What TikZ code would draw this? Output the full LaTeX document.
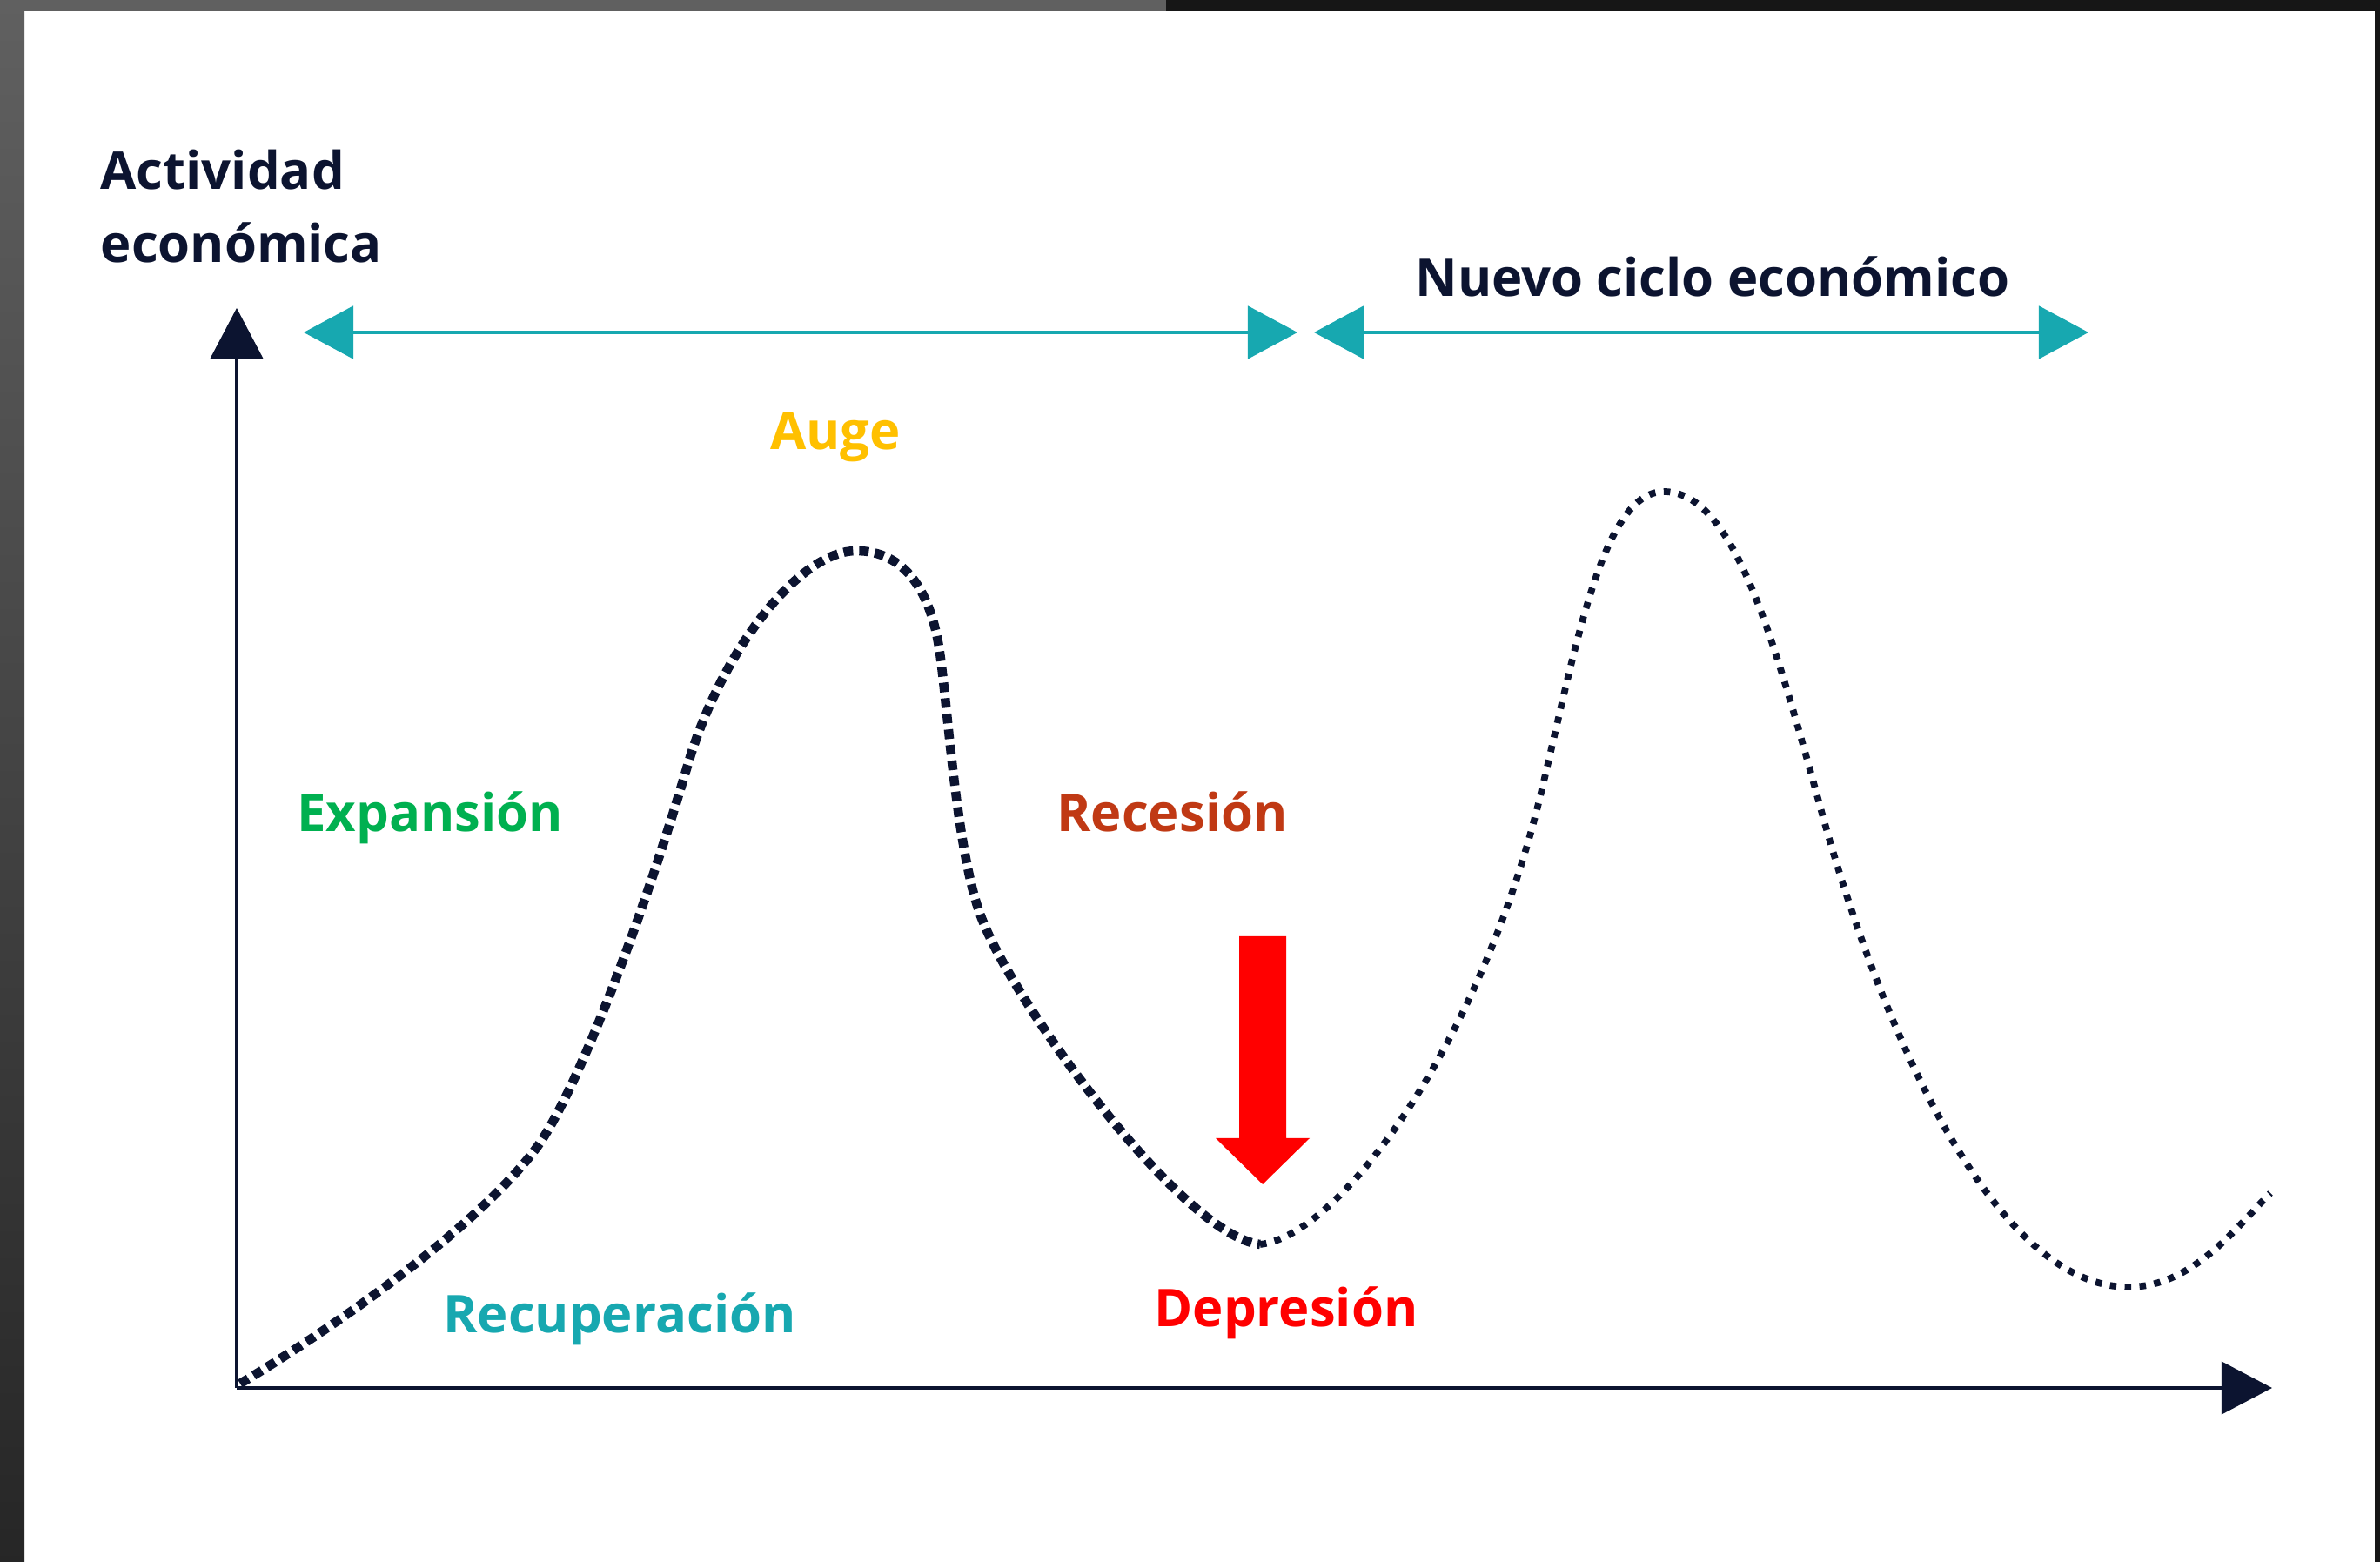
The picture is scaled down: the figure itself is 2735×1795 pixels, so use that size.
\documentclass[tikz,border=0pt]{standalone}
\usepackage{fontspec}
\setmainfont{Open Sans}
\usepackage{xcolor}
\usetikzlibrary{positioning,calc,arrows.meta}

\definecolor{navy}{RGB}{12,20,48}
\definecolor{turq}{RGB}{23,168,176}
\definecolor{augecol}{RGB}{255,192,0}
\definecolor{expancol}{RGB}{0,176,80}
\definecolor{recescol}{RGB}{192,57,20}
\definecolor{deprecol}{RGB}{255,0,0}
\definecolor{marcogris}{RGB}{96,96,96}
\definecolor{marcoosc}{RGB}{22,22,22}

\begin{document}
\begin{tikzpicture}[x=0.01cm, y=-0.01cm,
    lbl/.style={font=\fontsize{17}{20}\selectfont\bfseries, inner sep=0pt, anchor=base},
    eje/.style={draw=navy, line width=1.1pt, -{Triangle[length=0.58cm, width=0.6cm]}},
    fase/.style={draw=turq, line width=1.4pt,
      {Triangle[length=0.57cm, width=0.6cm]}-{Triangle[length=0.57cm, width=0.6cm]}}]
  % marco de la captura
  \useasboundingbox (0,0) rectangle (2735,1795);
  \fill[white] (0,0) rectangle (2735,1795);
  \shade[top color=marcogris, bottom color=black!85] (0,0) rectangle (28,1795);
  \fill[marcogris] (0,0) rectangle (1340,13);
  \fill[marcoosc] (1340,0) rectangle (2735,13);
  \fill[marcoosc] (2729,0) rectangle (2735,1795);

  % ejes
  \coordinate (O) at (272,1595);
  \coordinate (ytop) at (272,354);
  \coordinate (xend) at (2611,1595);
  \draw[eje] (O) -- (ytop);
  \draw[eje] (O) -- (xend);

  % fases del ciclo
  \coordinate (c1a) at (349,382);
  \coordinate (c1b) at (1491,382);
  \coordinate (c2a) at (1510,382);
  \coordinate (c2b) at (2400,382);
  \draw[fase] (c1a) -- (c1b);
  \draw[fase] (c2a) -- (c2b);

  % textos
  \node[lbl, text=navy, anchor=base west] (act) at (115,218) {Actividad};
  \node[lbl, text=navy, anchor=base west] (econ) at (115,302) {económica};
  \node[lbl, text=navy] (nuevo) at (1968,341) {Nuevo ciclo económico};
  \node[lbl, text=augecol] (auge) at (960,517) {Auge};
  \node[lbl, text=expancol] (expan) at (494,956) {Expansión};
  \node[lbl, text=recescol] (reces) at (1347,956) {Recesión};
  \node[lbl, text=turq] (recup) at (712,1532) {Recuperación};
  \node[lbl, text=deprecol] (depre) at (1478,1525) {Depresión};

  % flecha roja
  \fill[deprecol] (1424,1076) -- (1478,1076) -- (1478,1308) -- (1505,1308)
    -- (1451,1361) -- (1397,1308) -- (1424,1308) -- cycle;

  % curva: primer ciclo
  \coordinate (fondo) at (1448,1430);
  \draw[navy, line width=3pt, dash pattern=on 0.11cm off 0.07cm]
    (276,1590) .. controls (386,1524) and (545,1413) .. (615,1321)
    .. controls (655,1269) and (730,1084) .. (790,880)
    .. controls (830,744) and (920,633) .. (984,633)
    .. controls (1040,633) and (1070,680) .. (1080,750)
    .. controls (1090,820) and (1100,990) .. (1130,1060)
    .. controls (1170,1160) and (1360,1420) .. (fondo);
  % curva: nuevo ciclo
  \draw[navy, line width=2.2pt, dash pattern=on 0.075cm off 0.095cm]
    (fondo) .. controls (1540,1420) and (1700,1200) .. (1769,919)
    .. controls (1810,750) and (1840,565) .. (1912,565)
    .. controls (1990,565) and (2035,721) .. (2090,921)
    .. controls (2160,1180) and (2290,1479) .. (2446,1479)
    .. controls (2520,1479) and (2570,1410) .. (2609,1371);
\end{tikzpicture}
\end{document}
